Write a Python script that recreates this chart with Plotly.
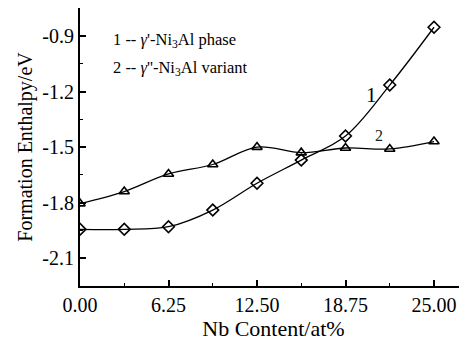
import plotly.graph_objects as go

nb_content = [0.0, 3.125, 6.25, 9.375, 12.5, 15.625, 18.75, 21.875, 25.0]
enthalpy_phase = [-1.944, -1.944, -1.93, -1.84, -1.695, -1.57, -1.44, -1.165, -0.853]
enthalpy_variant = [-1.805, -1.74, -1.645, -1.594, -1.50, -1.53, -1.505, -1.51, -1.47]

x_tickvals = [0.0, 6.25, 12.5, 18.75, 25.0]
x_ticktext = ["0.00", "6.25", "12.50", "18.75", "25.00"]
y_tickvals = [-0.9, -1.2, -1.5, -1.8, -2.1]
y_ticktext = ["-0.9", "-1.2", "-1.5", "-1.8", "-2.1"]

FONT = "Liberation Serif"

fig = go.Figure()
fig.add_trace(go.Scatter(
    x=nb_content, y=enthalpy_phase, mode="lines+markers",
    line=dict(color="black", width=1.3, shape="spline", smoothing=1),
    marker=dict(symbol="diamond-open", size=9, color="black", line=dict(width=1.6)),
    showlegend=False))
fig.add_trace(go.Scatter(
    x=nb_content, y=enthalpy_variant, mode="lines+markers",
    line=dict(color="black", width=1.3, shape="spline", smoothing=1),
    marker=dict(symbol="triangle-up-open", size=9, color="black", line=dict(width=1.6)),
    showlegend=False))

fig.add_annotation(x=20.6, y=-1.218, text="1", showarrow=False,
                   font=dict(family=FONT, size=21, color="black"))
fig.add_annotation(x=21.1, y=-1.435, text="2", showarrow=False,
                   font=dict(family=FONT, size=16, color="#222"))
fig.add_annotation(x=2.2, y=-0.922, xanchor="left", showarrow=False,
                   text="1 -- <i>γ</i>'-Ni<sub>3</sub>Al phase",
                   font=dict(family=FONT, size=16.5, color="black"))
fig.add_annotation(x=2.2, y=-1.073, xanchor="left", showarrow=False,
                   text="2 -- <i>γ</i>''-Ni<sub>3</sub>Al variant",
                   font=dict(family=FONT, size=16.5, color="black"))

fig.update_layout(
    width=459, height=337,
    margin=dict(l=72, r=0, t=0, b=59),
    paper_bgcolor="white", plot_bgcolor="white",
    font=dict(family=FONT, size=20, color="black"),
    xaxis=dict(
        range=[0, 27.33], showgrid=False, zeroline=False, automargin=False,
        showline=True, linecolor="black", linewidth=2, mirror=True,
        ticks="inside", ticklen=6, tickwidth=1.5, tickcolor="black",
        tickmode="array", tickvals=x_tickvals, ticktext=x_ticktext,
        tickfont=dict(family=FONT, size=20, color="black"),
        minor=dict(ticks="inside", ticklen=3, tickwidth=1.2, tickcolor="black",
                   tickmode="linear", tick0=0, dtick=3.125),
        title=dict(text="Nb Content/at%", font=dict(family=FONT, size=22, color="black"),
                   standoff=2),
    ),
    yaxis=dict(
        range=[-2.25, -0.749], showgrid=False, zeroline=False, automargin=False,
        showline=True, linecolor="black", linewidth=2, mirror=False,
        ticks="inside", ticklen=6, tickwidth=1.5, tickcolor="black",
        tickmode="array", tickvals=y_tickvals, ticktext=y_ticktext,
        tickfont=dict(family=FONT, size=20, color="black"),
        minor=dict(ticks="inside", ticklen=3, tickwidth=1.2, tickcolor="black",
                   tickmode="linear", tick0=-0.9, dtick=0.15),
        title=dict(text="Formation Enthalpy/eV", font=dict(family=FONT, size=20, color="black"),
                   standoff=4),
    ),
)

fig.write_html("out.html")
